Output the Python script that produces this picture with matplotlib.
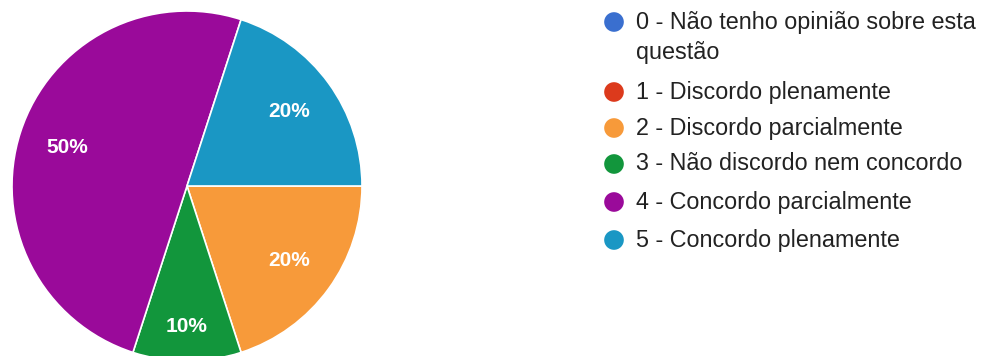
import numpy as np
import matplotlib
matplotlib.use("Agg")
import matplotlib.pyplot as plt

# Survey answers (share of responses, %)
categories = [
    "0 - Não tenho opinião sobre esta\nquestão",
    "1 - Discordo plenamente",
    "2 - Discordo parcialmente",
    "3 - Não discordo nem concordo",
    "4 - Concordo parcialmente",
    "5 - Concordo plenamente",
]
shares = [0, 0, 20, 10, 50, 20]
colors = ["#3a6fcf", "#dc3a1c", "#f79a3a", "#12963c", "#9a0a9a", "#1a97c4"]

W, H = 992, 356
fig = plt.figure(figsize=(W / 100, H / 100), dpi=100)
fig.patch.set_facecolor("white")
ax = fig.add_axes([0, 0, 1, 1])

cx, cy, r = 187, H - 186, 175
wedges, texts, autotexts = ax.pie(
    shares,
    colors=colors,
    startangle=0,
    counterclock=False,
    center=(cx, cy),
    radius=r,
    frame=True,
    autopct=lambda p: f"{p:.0f}%" if p >= 1 else "",
    pctdistance=0.72,
    wedgeprops=dict(edgecolor="white", linewidth=1.2),
    textprops=dict(color="white", fontsize=15, family="Liberation Sans",
                   fontweight="bold"),
)

# push the narrow slice's label further out toward the rim
label_dist = [0.72, 0.72, 0.72, 0.80, 0.72, 0.72]
for w, t, d in zip(wedges, autotexts, label_dist):
    mid = np.deg2rad((w.theta1 + w.theta2) / 2)
    t.set_position((cx + d * r * np.cos(mid), cy + d * r * np.sin(mid)))

ax.set_xlim(0, W)
ax.set_ylim(0, H)
ax.set_aspect("equal")
ax.axis("off")

# legend: coloured dot + label, the first label wraps onto a second line
key_x, text_x = 614, 636
row_y = [22, 92, 128, 164, 202, 240]
wrap_y = 53
legend_font = dict(fontsize=16.8, family="Liberation Sans", color="#222222",
                   va="center")
for lab, col, y in zip(categories, colors, row_y):
    ax.scatter([key_x], [H - y], s=200, color=col, edgecolors="none", zorder=3)
    lines = lab.split("\n")
    ax.text(text_x, H - y, lines[0], **legend_font)
    if len(lines) > 1:
        ax.text(text_x, H - wrap_y, lines[1], **legend_font)

fig.savefig("out.png", dpi=100, facecolor="white")
